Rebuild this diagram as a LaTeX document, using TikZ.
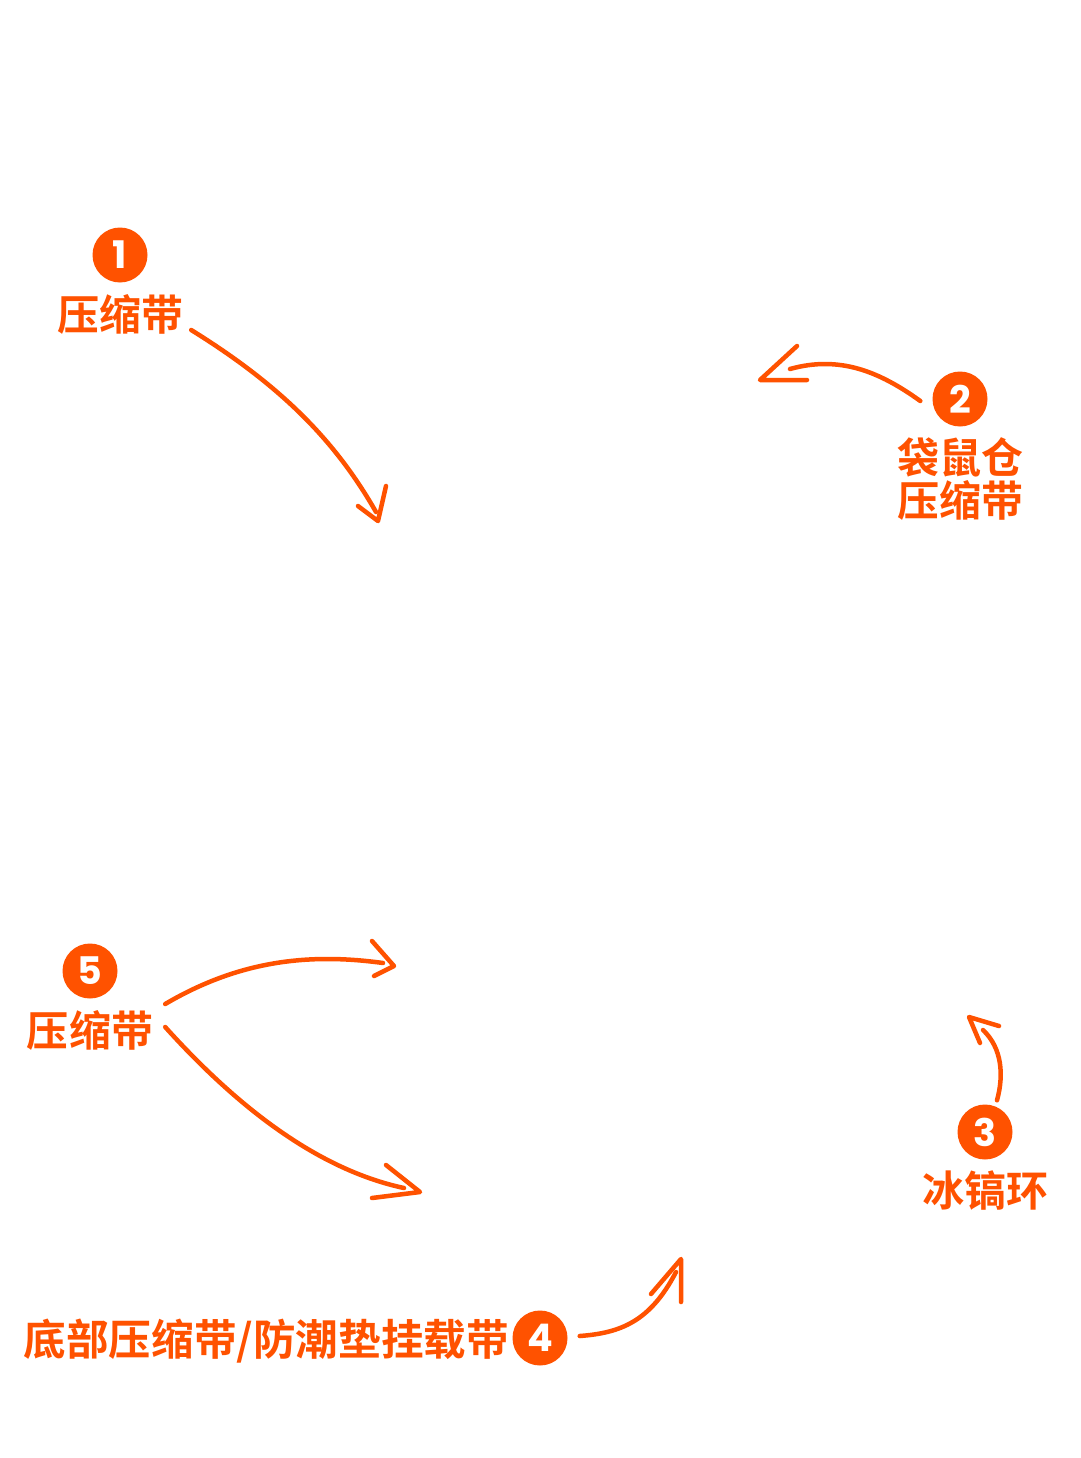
\documentclass[tikz,border=0pt]{standalone}
\usepackage{fontspec}
\newfontfamily\cjk{Noto Sans CJK SC}[BoldFont={Noto Sans CJK SC Bold}]
\newfontfamily\numfont{Poppins}[BoldFont={Poppins Bold}]
\definecolor{accent}{HTML}{FF5200}
\tikzset{
  lbl/.style={text=accent, font=\fontsize{42}{43}\selectfont\cjk\bfseries, align=center, inner sep=0pt},
  badge/.style={circle, fill=accent, minimum size=55pt, inner sep=0pt, text=white, font=\fontsize{38}{38}\selectfont\numfont\bfseries},
  pen/.style={draw=accent, line width=4.5pt, line cap=round, line join=round}
}
\begin{document}
\begin{tikzpicture}[x=1pt,y=-1pt]
\useasboundingbox (0,0) rectangle (1080,1458);
\fill[white] (0,0) rectangle (1080,1458);

% labels
\node[badge] (b1) at (120,255) {1};
\node[lbl] (t1) at (120,314) {压缩带};
\node[badge] (b2) at (960,399) {2};
\node[lbl] (t2) at (960,479) {袋鼠仓\\压缩带};
\node[badge] (b3) at (985,1132) {3};
\node[lbl] (t3) at (985,1191) {冰镐环};
\node[badge] (b4) at (540,1338) {4};
\node[lbl, anchor=east, font=\fontsize{42.6}{43}\selectfont\cjk\bfseries] (t4) at (509,1341) {底部压缩带/防潮垫挂载带};
\node[badge] (b5) at (90,971) {5};
\node[lbl] (t5) at (90,1030) {压缩带};

% arrow ends
\coordinate (e1) at (378,521);
\coordinate (e2) at (760,380);
\coordinate (e3) at (969,1017);
\coordinate (e4) at (681,1259);
\coordinate (e5a) at (394,966);
\coordinate (e5b) at (420,1192);

% arrow 1
\draw[pen] (t1.east) ++(8,16) .. controls (280,385) and (335,440) .. (376,512);
\draw[pen] (358,506) -- (e1) -- (386,486);
% arrow 2
\draw[pen] (b2.west) ++(-12,2) .. controls (880,372) and (840,355) .. (790,369);
\draw[pen] (797,346) -- (e2) -- (807,380);
% arrow 3
\draw[pen] (b3.north) ++(12,-4) .. controls (1004,1075) and (1002,1048) .. (983,1030);
\draw[pen] (980,1043) -- (e3) -- (999,1026);
% arrow 4
\draw[pen] (b4.east) ++(12,-2) .. controls (620,1333) and (650,1322) .. (676,1272);
\draw[pen] (651,1294) -- (e4) -- (681,1302);
% arrow 5a
\draw[pen] (t5.east) ++(12,-26) .. controls (240,960) and (310,953) .. (383,963);
\draw[pen] (372,941) -- (e5a) -- (374,976);
% arrow 5b
\draw[pen] (t5.east) ++(12,-3) .. controls (240,1110) and (320,1170) .. (404,1188);
\draw[pen] (386,1165) -- (e5b) -- (372,1198);
\end{tikzpicture}
\end{document}
